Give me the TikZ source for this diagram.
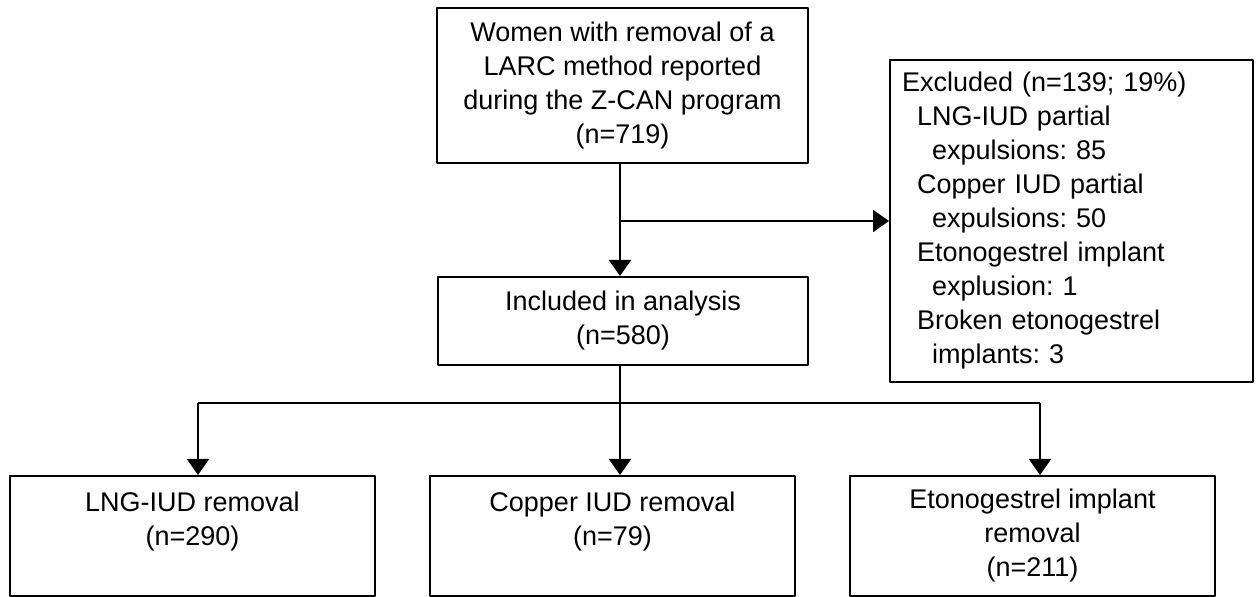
\documentclass[tikz,border=0pt]{standalone}
\usepackage{fontspec}
\setmainfont{Liberation Sans}
\usetikzlibrary{arrows.meta,positioning}
\frenchspacing
\begin{document}
\begin{tikzpicture}[x=0.5pt,y=-0.5pt,line join=round,>={Triangle[width=11pt,length=8pt]},
	box/.style={draw,line width=1pt,align=center,inner sep=0pt,font=\fontsize{13.5}{17}\selectfont},
	exbox/.style={box,align=left,text width=169.5pt,inner xsep=6pt,minimum height=161pt},
	endbox/.style={box,minimum width=182.5pt,minimum height=60pt}]
	\useasboundingbox (0,0) rectangle (1259,597);
	% boxes
	\node[box,minimum width=185.5pt,minimum height=77.5pt] (women) at (622.5,85.5)
	{Women with removal of a\\LARC method reported\\during the Z-CAN program\\(n=719)};
	\node[box,minimum width=185pt,minimum height=44pt] (incl) at (623,321)
	{Included in analysis\\(n=580)};
	\node[exbox] (excl) at (1071.5,221)
	{Excluded (n=139; 19\%)\\
	\hspace*{7.5pt}LNG-IUD partial\\
	\hspace*{15pt}expulsions: 85\\
	\hspace*{7.5pt}Copper IUD partial\\
	\hspace*{15pt}expulsions: 50\\
	\hspace*{7.5pt}Etonogestrel implant\\
	\hspace*{15pt}explusion: 1\\
	\hspace*{7.5pt}Broken etonogestrel\\
	\hspace*{15pt}implants: 3};
	\node[endbox] (lng) at (192.5,536) {LNG-IUD removal\\(n=290)\\~};
	\node[endbox] (cu) at (612.5,536) {Copper IUD removal\\(n=79)\\~};
	\node[endbox] (eto) at (1032.5,536) {Etonogestrel implant\\removal\\(n=211)};
	% connectors
	\path
	(620,221) coordinate(split)
	(198,403) coordinate(brL)
	(620,403) coordinate(brM)
	(1040,403) coordinate(brR)
	;
	\draw[line width=1pt] (women.south -| split) -- (split);
	\draw[line width=1pt,->] (split) -- (excl.west |- split);
	\draw[line width=1pt,->] (split) -- (split |- incl.north);
	\draw[line width=1pt] (incl.south -| brM) -- (brM) (brL) -- (brR);
	\foreach \b/\n in {brL/lng,brM/cu,brR/eto}\draw[line width=1pt,->] (\b) -- (\b |- \n.north);
\end{tikzpicture}
\end{document}
